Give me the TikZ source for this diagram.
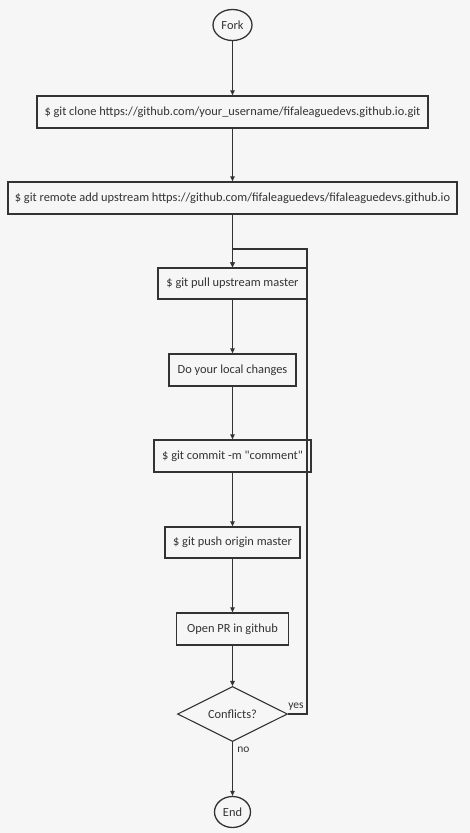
\documentclass[tikz,border=0pt]{standalone}
\usepackage{fontspec}
\setmainfont{Carlito}[Ligatures=TeXOff]
\usetikzlibrary{shapes.geometric,arrows.meta}
\definecolor{bg}{HTML}{F6F6F6}
\definecolor{ln}{HTML}{333333}
\begin{document}
\begin{tikzpicture}[x=1pt,y=-1pt,
  every node/.style={text=ln,font=\fontsize{12.4}{14}\selectfont},
  box/.style={draw=ln,line width=1.3pt,fill=bg,rectangle,inner sep=0pt,anchor=center},
  term/.style={draw=ln,line width=1.3pt,fill=bg,ellipse,inner sep=0pt},
  dec/.style={draw=ln,line width=1.1pt,fill=bg,diamond,inner sep=0pt},
  conn/.style={draw=ln,line width=1.1pt,-{Triangle[length=5pt,width=4.5pt]}},
  lbl/.style={font=\fontsize{11.5}{13}\selectfont}]
\fill[bg] (0,0) rectangle (470,833);
\useasboundingbox (0,0) rectangle (470,833);
\node[term,minimum width=39,minimum height=31] (fork) at (232.5,25) {Fork};
\node[box,minimum width=391,minimum height=32] (clone) at (232.5,112) {\$ git clone https://github.com/your\_username/fifaleaguedevs.github.io.git};
\node[box,minimum width=449,minimum height=32] (remote) at (232.5,198) {\$ git remote add upstream https://github.com/fifaleaguedevs/fifaleaguedevs.github.io};
\node[box,minimum width=149,minimum height=31] (pull) at (232.5,283.5) {\$ git pull upstream master};
\node[box,minimum width=127,minimum height=32] (local) at (232.5,370) {Do your local changes};
\node[box,minimum width=157,minimum height=32] (commit) at (232.5,456) {\$ git commit -m "comment"};
\node[box,minimum width=135,minimum height=31] (push) at (232.5,542.5) {\$ git push origin master};
\node[box,minimum width=112,minimum height=32] (pr) at (232.5,629) {Open PR in github};
\node[dec,minimum width=110,minimum height=55,aspect=2] (conf) at (232.5,714) {Conflicts?};
\node[term,minimum width=36,minimum height=31] (end) at (232.5,812) {End};
\coordinate (loopB) at (307,714);
\coordinate (loopT) at (307,249);
\coordinate (loopL) at (232.5,249);
\draw[conn] (fork) -- (clone);
\draw[conn] (clone) -- (remote);
\draw[conn] (remote) -- (pull);
\draw[conn] (pull) -- (local);
\draw[conn] (local) -- (commit);
\draw[conn] (commit) -- (push);
\draw[conn] (push) -- (pr);
\draw[conn] (pr) -- (conf);
\draw[conn] (conf.south) -- node[lbl,pos=0.15,right,xshift=1pt] {no} (end);
\draw[conn] (conf.east) -- (loopB) -- (loopT) -- (loopL) -- (pull.north);
\node[lbl,anchor=south] (yes) at (296,714) {yes};
\end{tikzpicture}
\end{document}
